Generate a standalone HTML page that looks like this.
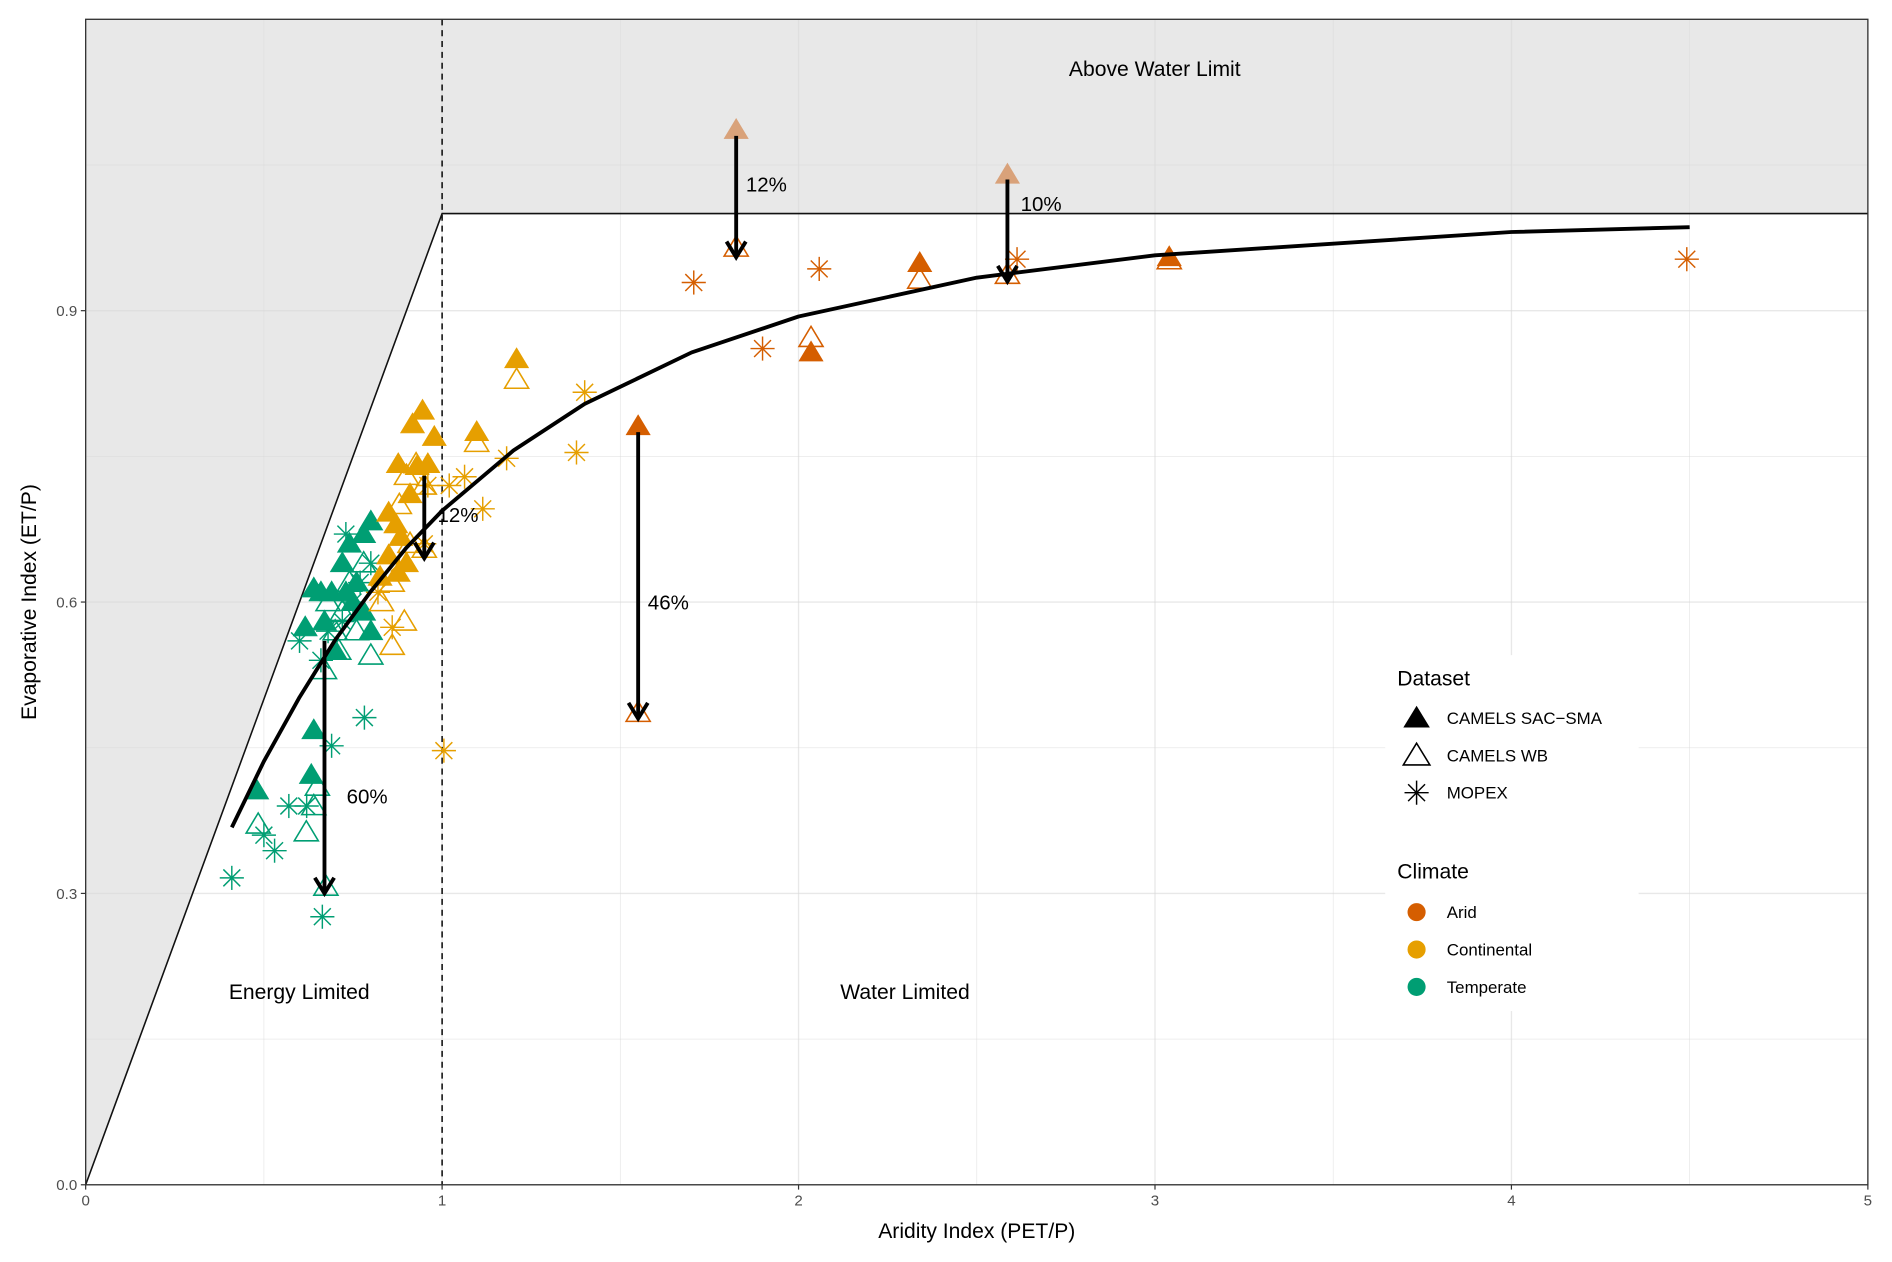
<!DOCTYPE html>
<html><head><meta charset="utf-8"><style>
html,body{margin:0;padding:0;background:#fff;}
svg{display:block;font-family:"Liberation Sans",sans-serif;}
</style></head><body>
<svg id="chart" width="1892" height="1262" viewBox="0 0 1568 1046" preserveAspectRatio="none" xmlns="http://www.w3.org/2000/svg"></svg>
<script>
const xTicks=[0,1,2,3,4,5];
const yTicks=[0,0.3,0.6,0.9];
const xTickLabels=["0","1","2","3","4","5"];
const yTickLabels=["0.0","0.3","0.6","0.9"];
const curveX=[0.41,0.5,0.6,0.7,0.8,0.9,1,1.2,1.4,1.7,2,2.5,3,4,4.5];
const curveY=[0.368,0.436,0.502,0.561,0.611,0.656,0.694,0.756,0.804,0.857,0.894,0.934,0.957,0.981,0.986];
const aridSacX=[2.34,2.035,3.04,1.55];
const aridSacY=[0.949,0.857,0.955,0.781];
const aridAboveX=[1.825,2.586];
const aridAboveY=[1.086,1.04];
const aridWbX=[1.825,2.586,2.34,2.035,3.04,1.55];
const aridWbY=[0.965,0.937,0.932,0.872,0.952,0.486];
const aridMopexX=[1.706,2.058,1.899,2.613,4.492];
const aridMopexY=[0.929,0.943,0.861,0.953,0.953];
const contSacX=[1.209,1.097,0.945,0.917,0.978,0.877,0.91,0.96,0.85,0.884,0.85,0.877,0.826,0.9,0.87,0.93];
const contSacY=[0.85,0.775,0.797,0.783,0.77,0.742,0.711,0.742,0.692,0.667,0.648,0.63,0.626,0.64,0.68,0.74];
const contWbX=[1.209,1.097,0.927,0.9,0.95,0.86,0.894,0.91,0.95,0.83,0.86,0.88];
const contWbY=[0.829,0.764,0.742,0.73,0.72,0.62,0.58,0.66,0.655,0.6,0.555,0.7];
const contMopexX=[1.4,1.377,1.181,1.063,1.114,1.005,0.95,0.86,0.82,0.96,1.02,0.88];
const contMopexY=[0.816,0.754,0.748,0.729,0.696,0.447,0.66,0.574,0.61,0.72,0.72,0.64];
const tempSacX=[0.48,0.633,0.64,0.616,0.67,0.64,0.69,0.72,0.74,0.8,0.78,0.76,0.75,0.7,0.8,0.78,0.73,0.66];
const tempSacY=[0.406,0.422,0.468,0.574,0.58,0.614,0.61,0.64,0.66,0.683,0.67,0.62,0.6,0.55,0.57,0.59,0.61,0.61];
const tempWbX=[0.484,0.619,0.64,0.65,0.674,0.67,0.71,0.8,0.76,0.72,0.68,0.78,0.74,0.7];
const tempWbY=[0.371,0.363,0.39,0.41,0.307,0.53,0.55,0.545,0.57,0.59,0.6,0.64,0.62,0.57];
const tempMopexX=[0.41,0.53,0.5,0.57,0.62,0.69,0.782,0.664,0.6,0.66,0.73,0.72,0.77,0.8,0.75,0.68];
const tempMopexY=[0.316,0.344,0.36,0.39,0.39,0.452,0.481,0.276,0.56,0.54,0.67,0.58,0.62,0.64,0.6,0.57];
const arrowX=[1.825,2.586,0.95,1.55,0.67];
const arrowFrom=[1.08,1.035,0.73,0.775,0.56];
const arrowTo=[0.955,0.93,0.645,0.48,0.3];
const arrowLabels=["12%","10%","12%","46%","60%"];
const arrowLabelDx=[0.0,0.01,0.01,0.0,0.035];
const arrowLabelY=[1.03,1.01,0.69,0.6,0.4];

const NS="http://www.w3.org/2000/svg";
const svg=document.getElementById('chart');
const X0=71,X1=1548,Y0=982,YT=16;
const sx=v=>X0+(X1-X0)*v/5;
const sy=v=>Y0-(Y0-YT)*v/1.2;
function mk(tag,attrs,parent){const e=document.createElementNS(NS,tag);for(const k in attrs)e.setAttribute(k,attrs[k]);(parent||svg).appendChild(e);return e;}

let bg=mk('rect',{x:X0,y:YT,width:X1-X0,height:Y0-YT,fill:'#e8e8e8'});


let wl=mk('polygon',{points:`${sx(0)},${sy(0)} ${sx(1)},${sy(1)} ${sx(5)},${sy(1)} ${sx(5)},${sy(0)}`,fill:'#fff'});


for(let v=0;v<=5;v+=0.5){let g=mk('line',{x1:sx(v),x2:sx(v),y1:YT,y2:Y0,stroke:'#d8d8d8','stroke-opacity':0.6,'stroke-width':v%1?0.6:1.1});

}
for(let v=0;v<=1.2001;v+=0.15){let g=mk('line',{x1:X0,x2:X1,y1:sy(v),y2:sy(v),stroke:'#d8d8d8','stroke-opacity':0.6,'stroke-width':Math.abs(v/0.3-Math.round(v/0.3))>0.01?0.6:1.1});

}
let el=mk('polyline',{points:`${sx(0)},${sy(0)} ${sx(1)},${sy(1)} ${sx(5)},${sy(1)}`,fill:'none',stroke:'#111','stroke-width':1.3});


let dl=mk('line',{x1:sx(1),x2:sx(1),y1:YT,y2:Y0,stroke:'#111','stroke-width':1.3,'stroke-dasharray':'5,4'});



function tri(x,y,fill,col){const r=9.5;const px=sx(x),py=sy(y);
const t=mk('polygon',{points:`${px},${py-r} ${px-r*1.05},${py+r*0.75} ${px+r*1.05},${py+r*0.75}`,fill:fill?col:'none',stroke:col,'stroke-width':fill?0.5:1.3});return t;}
function star(x,y,col){const px=sx(x),py=sy(y),r=10;const g=mk('g',{stroke:col,'stroke-width':1.2});
[[r,0],[0,r],[r*0.7,r*0.7],[r*0.7,-r*0.7]].forEach(d=>mk('line',{x1:px-d[0],y1:py-d[1],x2:px+d[0],y2:py+d[1]},g));return g;}
const AR='#D55E00',CO='#E69F00',TE='#009E73';
function drawSet(xs,ys,kind,col,name){for(let i=0;i<xs.length;i++){let m=kind==='star'?star(xs[i],ys[i],col):tri(xs[i],ys[i],kind==='fill',col);

}}
drawSet(tempWbX,tempWbY,'open',TE,'temperate-camels-wb-point');
drawSet(tempMopexX,tempMopexY,'star',TE,'temperate-mopex-point');
drawSet(tempSacX,tempSacY,'fill',TE,'temperate-sac-sma-point');
drawSet(contWbX,contWbY,'open',CO,'continental-camels-wb-point');
drawSet(contMopexX,contMopexY,'star',CO,'continental-mopex-point');
drawSet(contSacX,contSacY,'fill',CO,'continental-sac-sma-point');
drawSet(aridWbX,aridWbY,'open',AR,'arid-camels-wb-point');
drawSet(aridMopexX,aridMopexY,'star',AR,'arid-mopex-point');
drawSet(aridSacX,aridSacY,'fill',AR,'arid-sac-sma-point');
drawSet(aridAboveX,aridAboveY,'fill','#D9A27A','arid-sac-sma-above-limit-point');

let cv=mk('polyline',{points:curveX.map((x,i)=>sx(x)+','+sy(curveY[i])).join(' '),fill:'none',stroke:'#000','stroke-width':3.2,'stroke-linejoin':'round'});



for(let i=0;i<arrowX.length;i++){const px=sx(arrowX[i]),y1=sy(arrowFrom[i]),y2=sy(arrowTo[i]);
const g=mk('g',{stroke:'#000','stroke-width':3.2,fill:'none'});


mk('line',{x1:px,y1:y1,x2:px,y2:y2},g);
mk('polyline',{points:`${px-8},${y2-13} ${px},${y2} ${px+8},${y2-13}`},g);
const t=mk('text',{x:sx(arrowX[i]+arrowLabelDx[i])+8,y:sy(arrowLabelY[i])+6,'font-size':17,fill:'#000'});
t.textContent=arrowLabels[i];

}

let pb=mk('rect',{x:X0,y:YT,width:X1-X0,height:Y0-YT,fill:'none',stroke:'#333','stroke-width':1.1});



[['Above Water Limit',957,63],['Energy Limited',248,828],['Water Limited',750,828]].forEach(a=>{
const t=mk('text',{x:a[1],y:a[2],'font-size':17.5,'text-anchor':'middle',fill:'#000'});t.textContent=a[0];

});

xTicks.forEach((v,i)=>{mk('line',{x1:sx(v),x2:sx(v),y1:Y0,y2:Y0+4,stroke:'#333'});
const t=mk('text',{x:sx(v),y:Y0+17,'font-size':12.5,'text-anchor':'middle',fill:'#4d4d4d'});t.textContent=xTickLabels[i];

});
yTicks.forEach((v,i)=>{mk('line',{x1:X0-4,x2:X0,y1:sy(v),y2:sy(v),stroke:'#333'});
const t=mk('text',{x:X0-7,y:sy(v)+4.5,'font-size':12.5,'text-anchor':'end',fill:'#4d4d4d'});t.textContent=yTickLabels[i];

});
let xt=mk('text',{x:(X0+X1)/2,y:1026,'font-size':17.5,'text-anchor':'middle',fill:'#000'});xt.textContent='Aridity Index (PET/P)';


let yt=mk('text',{x:0,y:0,'font-size':17.5,'text-anchor':'middle',fill:'#000',transform:`translate(30,${(YT+Y0)/2}) rotate(-90)`});yt.textContent='Evaporative Index (ET/P)';



const lg=mk('g',{});


mk('rect',{x:1148,y:543,width:210,height:295,fill:'#fff'},lg);
function ltext(s,x,y,size,name){const t=mk('text',{x:x,y:y,'font-size':size,fill:'#000'},lg);t.textContent=s;

}
ltext('Dataset',1158,568,17.5,'legend-title-dataset');
ltext('Climate',1158,728,17.5,'legend-title-climate');
const ly=[595,626,657];
mk('polygon',{points:`1174,${ly[0]-10} 1163,${ly[0]+8} 1185,${ly[0]+8}`,fill:'#000'},lg);
mk('polygon',{points:`1174,${ly[1]-10} 1163,${ly[1]+8} 1185,${ly[1]+8}`,fill:'none',stroke:'#000','stroke-width':1.3},lg);
const sg=mk('g',{stroke:'#000','stroke-width':1.2},lg);
[[10,0],[0,10],[7,7],[7,-7]].forEach(d=>mk('line',{x1:1174-d[0],y1:ly[2]-d[1],x2:1174+d[0],y2:ly[2]+d[1]},sg));
ltext('CAMELS SAC\u2212SMA',1199,ly[0]+5,14,'legend-entry-camels-sac-sma');
ltext('CAMELS WB',1199,ly[1]+5,14,'legend-entry-camels-wb');
ltext('MOPEX',1199,ly[2]+5,14,'legend-entry-mopex');
[['Arid',AR,756],['Continental',CO,787],['Temperate',TE,818]].forEach(c=>{
mk('circle',{cx:1174,cy:c[2],r:7.5,fill:c[1]},lg);
ltext(c[0],1199,c[2]+5,14,'legend-entry-'+c[0].toLowerCase());});
</script>
</body></html>
